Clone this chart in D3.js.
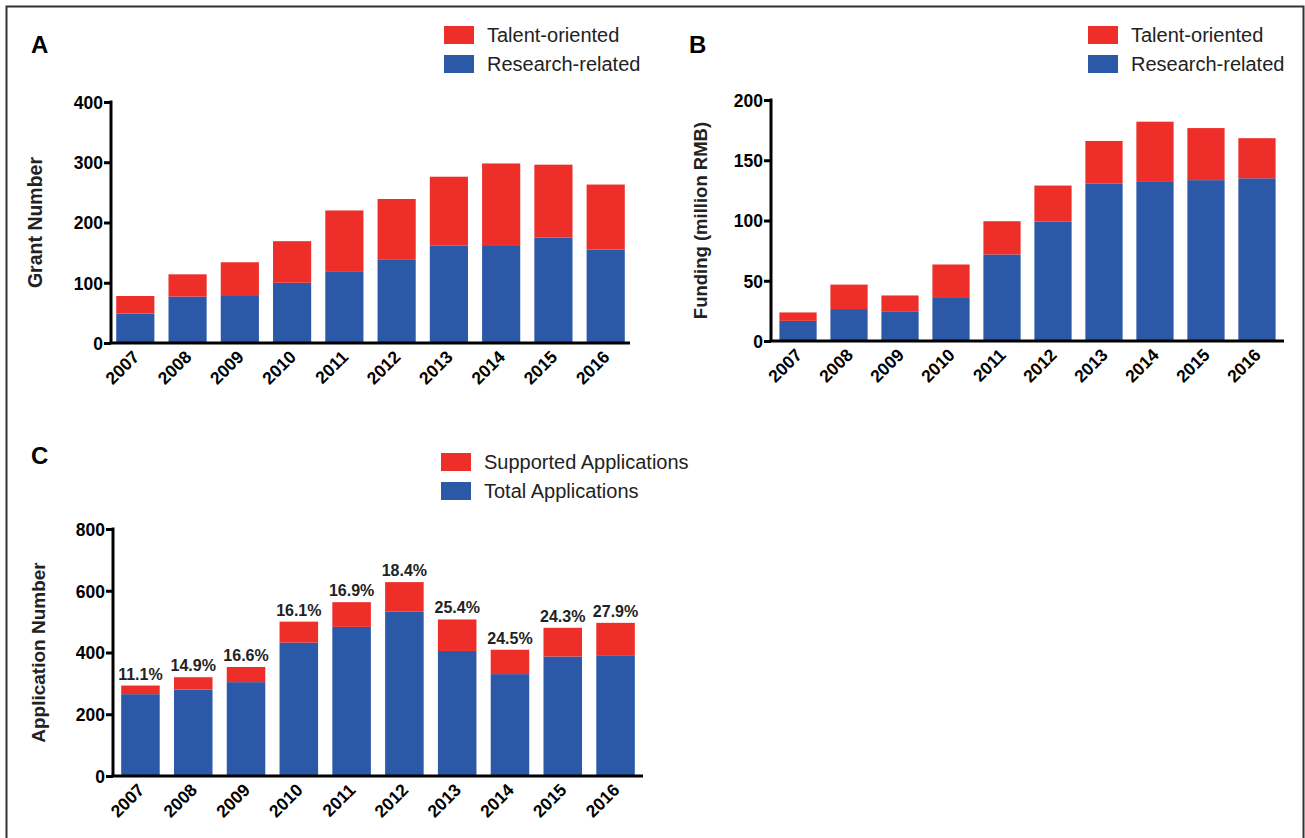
<!DOCTYPE html>
<html>
<head>
<meta charset="utf-8">
<script src="https://cdn.jsdelivr.net/npm/d3@7"></script>
<style>
  body { margin: 0; background: #fff; }
  svg { display: block; }
</style>
</head>
<body>
<svg id="chart" width="1305" height="838"></svg>
<script>
// Chart data
var years = ["2007", "2008", "2009", "2010", "2011", "2012", "2013", "2014", "2015", "2016"];

// Panel A - grant numbers
var grantResearch = [49, 77, 78, 100, 118, 139, 162, 161, 175, 155];
var grantTalent = [29, 37, 56, 69, 102, 100, 114, 137, 121, 108];

// Panel B - funding (million RMB)
var fundResearch = [16.7, 26.5, 24.2, 35.7, 71.8, 99, 130.5, 132, 133.5, 135];
var fundTalent = [7, 20.3, 13.6, 27.8, 27.6, 30, 35.5, 50, 43.2, 33.3];

// Panel C - applications
var appTotal = [265, 280, 304, 432, 483, 532, 405, 330, 387, 389];
var appSupported = [28, 40, 49, 68, 80, 96, 102, 79, 93, 107];
var appRate = ["11.1%", "14.9%", "16.6%", "16.1%", "16.9%", "18.4%", "25.4%", "24.5%", "24.3%", "27.9%"];

var ticksA = [0, 100, 200, 300, 400];
var ticksB = [0, 50, 100, 150, 200];
var ticksC = [0, 200, 400, 600, 800];

var RED = "#ee2e29";
var BLUE = "#2b58a7";
var FONT = "'Liberation Sans', Arial, Helvetica, sans-serif";

var svg = d3.select("#chart");

// Outer frame
svg.append("rect")
    .attr("x", 6.5).attr("y", 6.5)
    .attr("width", 1297).attr("height", 900)
    .attr("fill", "none")
    .attr("stroke", "#333")
    .attr("stroke-width", 2);

function drawPanel(p) {
    var g = svg.append("g");

    var x = d3.scaleBand()
        .domain(years)
        .range([p.x0, p.x1])
        .paddingInner(0.27)
        .paddingOuter(p.outer);

    var y = d3.scaleLinear()
        .domain([0, p.max])
        .range([p.y0, p.y1]);

    // Stack the two series (bottom: blue, top: red)
    var rows = years.map(function(yr, i) {
        return {year: yr, bottom: p.bottom[i], top: p.top[i]};
    });
    var stacked = d3.stack().keys(["bottom", "top"])(rows);
    var colors = {bottom: BLUE, top: RED};

    g.selectAll("g.series")
        .data(stacked)
        .enter()
        .append("g")
        .attr("fill", function(d) { return colors[d.key]; })
        .selectAll("rect")
        .data(function(d) { return d; })
        .enter()
        .append("rect")
        .attr("x", function(d) { return x(d.data.year); })
        .attr("width", x.bandwidth())
        .attr("y", function(d) { return y(d[1]); })
        .attr("height", function(d) { return y(d[0]) - y(d[1]); });

    // Y axis
    var yAxis = g.append("g")
        .attr("transform", "translate(" + p.x0 + ",0)")
        .call(d3.axisLeft(y).tickValues(p.ticks).tickSize(7).tickPadding(1));
    yAxis.select(".domain").attr("stroke", "#000").attr("stroke-width", 3)
        .attr("d", "M0," + (p.y1 - 1.5) + "V" + p.y0);
    yAxis.selectAll(".tick line").attr("stroke", "#000").attr("stroke-width", 3);
    yAxis.selectAll(".tick text")
        .attr("fill", "#000")
        .attr("font-family", FONT)
        .attr("font-weight", "bold")
        .attr("font-size", "17.5px")
        .attr("dy", "0.36em");

    // X axis
    var xAxis = g.append("g")
        .attr("transform", "translate(0," + p.y0 + ")")
        .call(d3.axisBottom(x).tickSize(0).tickPadding(0));
    xAxis.select(".domain").attr("stroke", "#000").attr("stroke-width", 3)
        .attr("d", "M" + (p.x0 - 1.5) + ",0H" + p.x1);
    xAxis.selectAll(".tick text")
        .attr("fill", "#000")
        .attr("font-family", FONT)
        .attr("font-weight", "bold")
        .attr("font-size", "17.5px")
        .attr("text-anchor", "end")
        .attr("transform", "translate(5,15) rotate(-45)")
        .attr("dy", 0)
        .attr("y", 0);
    g.selectAll(".domain").attr("fill", "none");

    // Y axis title
    g.append("text")
        .attr("transform", "translate(" + p.titleX + "," + ((p.y0 + p.y1) / 2) + ") rotate(-90)")
        .attr("text-anchor", "middle")
        .attr("font-family", FONT)
        .attr("font-weight", "bold")
        .attr("font-size", p.titleSize)
        .attr("fill", "#222")
        .text(p.title);

    // Panel letter
    g.append("text")
        .attr("x", p.letterX).attr("y", p.letterY)
        .attr("font-family", FONT)
        .attr("font-weight", "bold")
        .attr("font-size", "24px")
        .attr("fill", "#000")
        .text(p.letter);

    // Legend (top series first)
    var legend = g.append("g");
    var items = [{label: p.topLabel, color: RED}, {label: p.bottomLabel, color: BLUE}];
    items.forEach(function(it, i) {
        var ly = p.legY + i * 29;
        legend.append("rect")
            .attr("x", p.legX).attr("y", ly)
            .attr("width", 30).attr("height", 18)
            .attr("fill", it.color);
        legend.append("text")
            .attr("x", p.legX + 43).attr("y", ly + 16)
            .attr("font-family", FONT)
            .attr("font-size", "20px")
            .attr("fill", "#222")
            .text(it.label);
    });

    // Labels above bars
    if (p.labels) {
        g.selectAll("text.rate")
            .data(rows)
            .enter()
            .append("text")
            .attr("class", "rate")
            .attr("x", function(d) { return x(d.year) + x.bandwidth() / 2; })
            .attr("y", function(d) { return y(d.bottom + d.top) - 6; })
            .attr("text-anchor", "middle")
            .attr("font-family", FONT)
            .attr("font-weight", "bold")
            .attr("font-size", "16px")
            .attr("fill", "#222")
            .text(function(d, i) { return p.labels[i]; });
    }
}

drawPanel({
    x0: 111, x1: 630, outer: 0.1, y0: 343, y1: 102, max: 400, ticks: ticksA,
    bottom: grantResearch, top: grantTalent,
    topLabel: "Talent-oriented", bottomLabel: "Research-related",
    legX: 444, legY: 26,
    title: "Grant Number", titleX: 42, titleSize: "19.5px",
    letter: "A", letterX: 31, letterY: 53
});

drawPanel({
    x0: 771, x1: 1284, outer: 0.165, y0: 341, y1: 100, max: 200, ticks: ticksB,
    bottom: fundResearch, top: fundTalent,
    topLabel: "Talent-oriented", bottomLabel: "Research-related",
    legX: 1088, legY: 26,
    title: "Funding (million RMB)", titleX: 707, titleSize: "18.5px",
    letter: "B", letterX: 689, letterY: 53
});

drawPanel({
    x0: 113, x1: 643, outer: 0.155, y0: 776, y1: 529, max: 800, ticks: ticksC,
    bottom: appTotal, top: appSupported,
    topLabel: "Supported Applications", bottomLabel: "Total Applications",
    legX: 441, legY: 453,
    title: "Application Number", titleX: 45, titleSize: "19px",
    letter: "C", letterX: 31, letterY: 464,
    labels: appRate
});
</script>
</body>
</html>
